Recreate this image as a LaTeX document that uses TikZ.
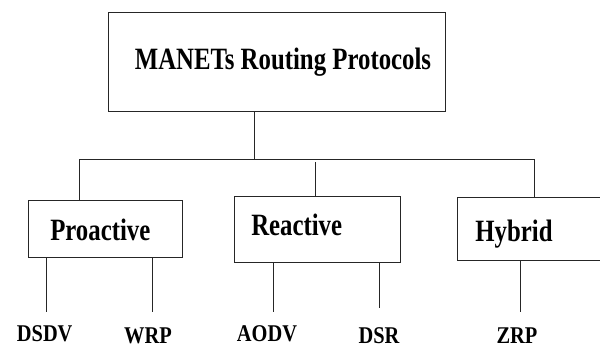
\documentclass[tikz,border=0pt]{standalone}
\usepackage{fontspec}
\setmainfont{Liberation Serif}
\begin{document}
\begin{tikzpicture}[x=1pt,y=-1pt,
  box/.style={draw=black!85, line width=1.1pt, inner sep=0pt, anchor=north west},
  conn/.style={draw=black!85, line width=1pt},
  big/.style={font=\fontsize{31}{31}\selectfont\bfseries, anchor=base, inner sep=0pt},
  leaf/.style={font=\fontsize{24}{24}\selectfont\bfseries, anchor=base, inner sep=0pt}]
\useasboundingbox (0,0) rectangle (600,349);
\clip (0,0) rectangle (600,349);
% boxes
\node[box, minimum width=337pt, minimum height=98.7pt] (top) at (108.3,12) {};
\node[box, minimum width=153.4pt, minimum height=56.7pt] (pro) at (28.3,200) {};
\node[box, minimum width=166.3pt, minimum height=65.7pt] (rea) at (234,196) {};
\node[box, minimum width=180pt, minimum height=63.3pt] (hyb) at (456.7,196.7) {};
% box texts
\node[big] (ttl) at (283,69) {\scalebox{0.8}[1]{MANETs Routing Protocols}};
\node[big] (prot) at (100.3,240) {\scalebox{0.8}[1]{Proactive}};
\node[big] (reat) at (296.7,235.7) {\scalebox{0.8}[1]{Reactive}};
\node[big] (hybt) at (514,241.7) {\scalebox{0.8}[1]{Hybrid}};
% leaf labels
\node[leaf] (dsdv) at (44.7,341.5) {\scalebox{0.85}[1]{DSDV}};
\node[leaf] (wrp) at (148,343.3) {\scalebox{0.85}[1]{WRP}};
\node[leaf] (aodv) at (267,341) {\scalebox{0.85}[1]{AODV}};
\node[leaf] (dsr) at (379,343.3) {\scalebox{0.85}[1]{DSR}};
\node[leaf] (zrp) at (517,343.3) {\scalebox{0.85}[1]{ZRP}};
% junction coordinates
\coordinate (jL) at (79.3,159.3);
\coordinate (jR) at (534,159.3);
\coordinate (jT) at (254.3,159.3);
\coordinate (jM) at (315,162.3);
% connectors
\draw[conn] (top.south -| jT) -- (jT);
\draw[conn] (jL |- pro.north) -- (jL) -- (jR) -- (jR |- hyb.north);
\draw[conn] (jM) -- (jM |- rea.north);
% leaf lines
\coordinate (e1) at (46,311.7);
\coordinate (e2) at (152.7,312);
\coordinate (e3) at (273.7,311.7);
\coordinate (e4) at (379,307.7);
\coordinate (e5) at (520,311.7);
\draw[conn] (e1 |- pro.south) -- (e1);
\draw[conn] (e2 |- pro.south) -- (e2);
\draw[conn] (e3 |- rea.south) -- (e3);
\draw[conn] (e4 |- rea.south) -- (e4);
\draw[conn] (e5 |- hyb.south) -- (e5);
\end{tikzpicture}
\end{document}
